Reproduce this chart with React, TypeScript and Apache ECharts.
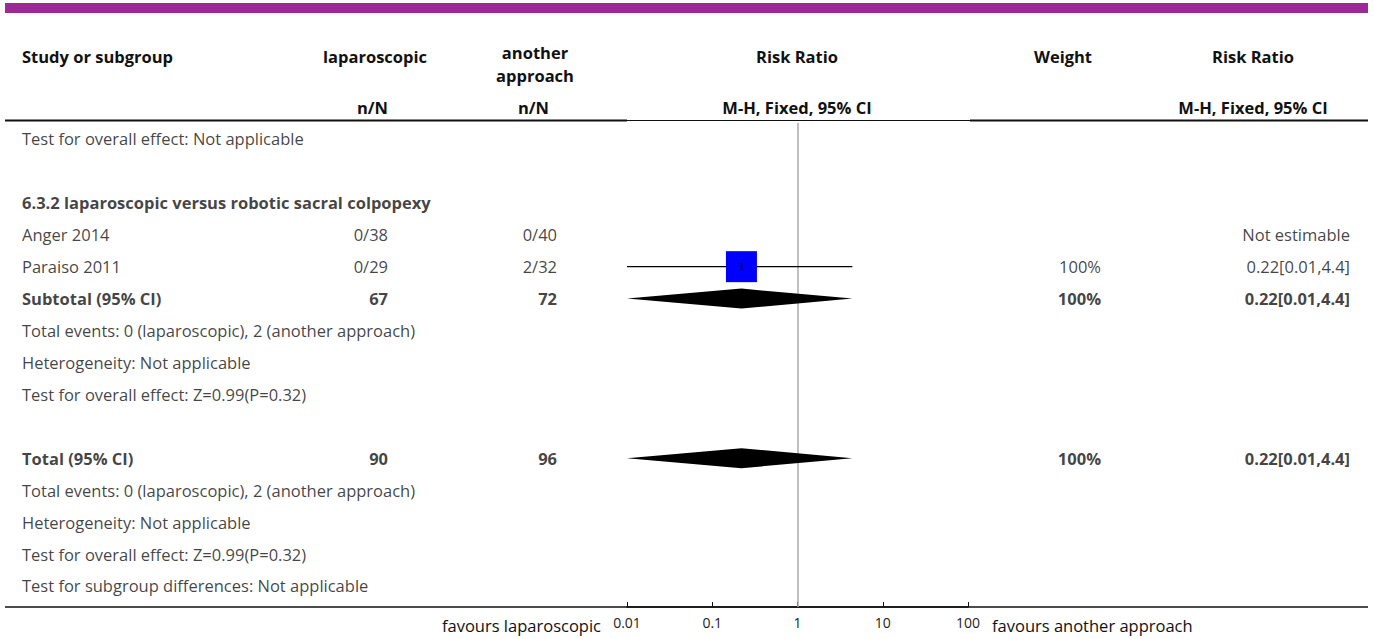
import React, { useEffect, useRef } from "react";
import * as echarts from "echarts";

const W = 1375;
const H = 639;
const FONT = "'Open Sans', 'Noto Sans', sans-serif";
const INK = "#111111";
const FS = 16.5;

// ---------- data ----------
const previousNote = "Test for overall effect: Not applicable";
const subgroupTitle = "6.3.2 laparoscopic versus robotic sacral colpopexy";
const studyNames = ["Anger 2014", "Paraiso 2011"];
const lapEvents = [0, 0];
const lapTotals = [38, 29];
const altEvents = [0, 2];
const altTotals = [40, 32];
const studyRR: (number | null)[] = [null, 0.22];
const studyLower: (number | null)[] = [null, 0.01];
const studyUpper: (number | null)[] = [null, 4.4];
const studyWeights: (number | null)[] = [null, 100];

const pooledLabels = ["Subtotal (95% CI)", "Total (95% CI)"];
const pooledLap = [67, 90];
const pooledAlt = [72, 96];
const pooledRR = [0.22, 0.22];
const pooledLower = [0.01, 0.01];
const pooledUpper = [4.4, 4.4];
const pooledWeights = [100, 100];

const subgroupNotes = [
  "Total events: 0 (laparoscopic), 2 (another approach)",
  "Heterogeneity: Not applicable",
  "Test for overall effect: Z=0.99(P=0.32)",
];
const totalNotes = [
  "Total events: 0 (laparoscopic), 2 (another approach)",
  "Heterogeneity: Not applicable",
  "Test for overall effect: Z=0.99(P=0.32)",
  "Test for subgroup differences: Not applicable",
];
const xTickValues = [0.01, 0.1, 1, 10, 100];
const favoursLabels = ["favours laparoscopic", "favours another approach"];
const headerTop = ["Study or subgroup", "laparoscopic", "another", "approach", "Risk Ratio", "Weight", "Risk Ratio"];
const headerSub = ["n/N", "n/N", "M-H, Fixed, 95% CI", "M-H, Fixed, 95% CI"];

// ---------- layout ----------
const ROW_MIN = -0.5;
const ROW_MAX = 14.66;
const GRID_TOP = 123;
const GRID_H = 484;
const PLOT_L = 627;
const PLOT_W = 341;
const COL_LABEL = 22;
const COL_LAP = 388;
const COL_ALT = 557;
const COL_WEIGHT = 1101;
const COL_EFFECT = 1350;

type Row = {
  row: number;
  label: string;
  bold: boolean;
  lap?: string;
  alt?: string;
  weight?: string;
  effect?: string;
};

function fmtEffect(rr: number | null, lo: number | null, hi: number | null) {
  if (rr == null) return "Not estimable";
  return `${rr}[${lo},${hi}]`;
}

const tableRows: Row[] = [];
tableRows.push({ row: 0, label: previousNote, bold: false });
tableRows.push({ row: 2, label: subgroupTitle, bold: true });
studyNames.forEach((n, i) => {
  tableRows.push({
    row: 3 + i,
    label: n,
    bold: false,
    lap: `${lapEvents[i]}/${lapTotals[i]}`,
    alt: `${altEvents[i]}/${altTotals[i]}`,
    weight: studyWeights[i] == null ? undefined : `${studyWeights[i]}%`,
    effect: fmtEffect(studyRR[i], studyLower[i], studyUpper[i]),
  });
});
const pooledRows = [5, 10];
pooledLabels.forEach((n, i) => {
  tableRows.push({
    row: pooledRows[i],
    label: n,
    bold: true,
    lap: `${pooledLap[i]}`,
    alt: `${pooledAlt[i]}`,
    weight: `${pooledWeights[i]}%`,
    effect: fmtEffect(pooledRR[i], pooledLower[i], pooledUpper[i]),
  });
});
subgroupNotes.forEach((t, i) => tableRows.push({ row: 6 + i, label: t, bold: false }));
totalNotes.forEach((t, i) => tableRows.push({ row: 11 + i, label: t, bold: false }));

const studyData = studyNames
  .map((_, i) => (studyRR[i] == null ? null : [studyRR[i], studyLower[i], studyUpper[i], 3 + i, studyWeights[i]]))
  .filter((d) => d != null);
const pooledData = pooledLabels.map((_, i) => [pooledRR[i], pooledLower[i], pooledUpper[i], pooledRows[i]]);

function textSeries(name: string, x: number, align: string, pick: (r: Row) => string | undefined) {
  const data = tableRows
    .filter((r) => pick(r) != null)
    .map((r) => ({
      value: [x, r.row],
      label: {
        show: true,
        position: "inside",
        align,
        verticalAlign: "middle",
        formatter: pick(r) as string,
        fontWeight: r.bold ? "bold" : "normal",
        fontSize: FS,
        color: INK,
        fontFamily: FONT,
      },
    }));
  return {
    name,
    type: "scatter",
    xAxisIndex: 1,
    yAxisIndex: 1,
    symbolSize: 1,
    itemStyle: { color: "transparent" },
    silent: true,
    data,
    z: 5,
  };
}

function hText(text: string, x: number, y: number, align: string, bold = true, size = FS) {
  return {
    type: "text",
    x,
    y,
    style: {
      text,
      fill: INK,
      font: `${bold ? "bold " : ""}${size}px ${FONT}`,
      textAlign: align,
      textVerticalAlign: "middle",
    },
  };
}

function hLine(x1: number, x2: number, y: number, w: number, color = INK) {
  return { type: "line", shape: { x1, y1: y, x2, y2: y }, style: { stroke: color, lineWidth: w } };
}

export default function App() {
  const ref = useRef<HTMLDivElement>(null);
  useEffect(() => {
    document.body.style.margin = "0";
    if (!ref.current) return;
    const chart = echarts.init(ref.current, undefined, { renderer: "svg" });
    const option: any = {
      animation: false,
      backgroundColor: "#ffffff",
      textStyle: { fontFamily: FONT },
      grid: [
        { left: PLOT_L, width: PLOT_W, top: GRID_TOP, height: GRID_H },
        { left: 0, width: W, top: GRID_TOP, height: GRID_H },
      ],
      xAxis: [
        {
          type: "log",
          logBase: 10,
          gridIndex: 0,
          position: "bottom",
          min: xTickValues[0],
          max: xTickValues[xTickValues.length - 1],
          axisLine: { show: true, onZero: false, lineStyle: { color: INK, width: 1.5 } },
          axisTick: { show: true, inside: true, length: 5, lineStyle: { color: INK, width: 1 } },
          axisLabel: {
            fontSize: 14,
            color: "#222",
            margin: 8,
            fontFamily: FONT,
            formatter: (v: number) => String(Number(Number(v).toPrecision(2))),
          },
          splitLine: { show: false },
        },
        { type: "value", gridIndex: 1, min: 0, max: W, show: false },
      ],
      yAxis: [
        { type: "value", gridIndex: 0, min: ROW_MIN, max: ROW_MAX, inverse: true, show: false },
        { type: "value", gridIndex: 1, min: ROW_MIN, max: ROW_MAX, inverse: true, show: false },
      ],
      series: [
        {
          name: "studies",
          type: "custom",
          xAxisIndex: 0,
          yAxisIndex: 0,
          encode: { x: [0, 1, 2], y: 3 },
          data: studyData,
          z: 3,
          renderItem: (params: any, api: any) => {
            const rr = api.value(0);
            const lo = api.value(1);
            const hi = api.value(2);
            const row = api.value(3);
            const w = api.value(4);
            const pLo = api.coord([lo, row]);
            const pHi = api.coord([hi, row]);
            const pC = api.coord([rr, row]);
            const s = 31 * Math.sqrt(w / 100);
            return {
              type: "group",
              children: [
                { type: "line", shape: { x1: pLo[0], y1: pLo[1], x2: pHi[0], y2: pHi[1] }, style: { stroke: "#000", lineWidth: 1.2 } },
                { type: "rect", shape: { x: pC[0] - s / 2, y: pC[1] - s / 2, width: s, height: s }, style: { fill: "#0000ff" } },
                { type: "line", shape: { x1: pC[0], y1: pC[1] - 4, x2: pC[0], y2: pC[1] + 4 }, style: { stroke: "#000", lineWidth: 1.5 } },
              ],
            };
          },
        },
        {
          name: "pooled",
          type: "custom",
          xAxisIndex: 0,
          yAxisIndex: 0,
          encode: { x: [0, 1, 2], y: 3 },
          data: pooledData,
          z: 3,
          renderItem: (params: any, api: any) => {
            const rr = api.value(0);
            const lo = api.value(1);
            const hi = api.value(2);
            const row = api.value(3);
            const pLo = api.coord([lo, row]);
            const pHi = api.coord([hi, row]);
            const pC = api.coord([rr, row]);
            return {
              type: "polygon",
              shape: { points: [pLo, [pC[0], pC[1] - 10], pHi, [pC[0], pC[1] + 10]] },
              style: { fill: "#000" },
            };
          },
          markLine: {
            silent: true,
            symbol: "none",
            label: { show: false },
            lineStyle: { color: "#aaaaaa", width: 1.5, type: "solid" },
            data: [{ xAxis: 1 }],
            z: 2,
          },
        },
        textSeries("label", COL_LABEL, "left", (r) => r.label),
        textSeries("lap", COL_LAP, "right", (r) => r.lap),
        textSeries("alt", COL_ALT, "right", (r) => r.alt),
        textSeries("weight", COL_WEIGHT, "right", (r) => r.weight),
        textSeries("effect", COL_EFFECT, "right", (r) => r.effect),
      ],
      graphic: [
        { type: "rect", shape: { x: 5, y: 3, width: 1363, height: 10 }, style: { fill: "#9b2a96" } },
        hText(headerTop[0], 22, 56, "left"),
        hText(headerTop[1], 375, 56, "center"),
        hText(headerTop[2], 535, 52, "center"),
        hText(headerTop[3], 535, 75, "center"),
        hText(headerTop[4], 797, 56, "center"),
        hText(headerTop[5], 1063, 56, "center"),
        hText(headerTop[6], 1253, 56, "center"),
        hText(headerSub[0], 388, 107, "right"),
        hText(headerSub[1], 549, 107, "right"),
        hText(headerSub[2], 797, 107, "center"),
        hText(headerSub[3], 1253, 107, "center"),
        hLine(5, 627, 120.5, 2),
        hLine(627, 970, 120.5, 1.2),
        hLine(970, 1368, 120.5, 2),
        hLine(5, 1368, 607, 1.5),
        hText(favoursLabels[0], 601, 625, "right", false, FS),
        hText(favoursLabels[1], 992, 625, "left", false, FS),
      ],
    };
    chart.setOption(option);
    return () => chart.dispose();
  }, []);
  return <div ref={ref} style={{ width: W, height: H }} />;
}
